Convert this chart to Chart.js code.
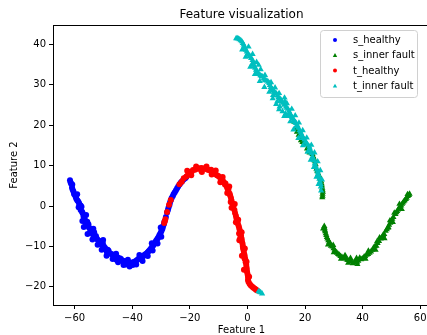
<!DOCTYPE html>
<html>
<head>
<meta charset="utf-8">
<script src="https://cdn.jsdelivr.net/npm/chart.js@4"></script>
<style>
    html, body { margin: 0; padding: 0; background: #fff; overflow: hidden; }
</style>
</head>
<body>
<canvas id="featureChart" width="434" height="335"></canvas>
<script>
// values, [feature 1, feature 2]
const sHealthy = [
    [-61.6, 6.4], [-61.4, 5.9], [-61.2, 5.5], [-60.9, 4.6], [-60.7, 4.1], [-60.4, 3.6], [-60.2, 3.0], [-59.9, 2.7],
    [-59.6, 2.2], [-59.4, 1.8], [-59.1, 1.4], [-58.8, 1.2], [-58.5, 0.8], [-58.3, 0.4], [-57.9, 0.1], [-57.6, -0.2],
    [-57.9, -1.0], [-57.4, -1.4], [-57.2, -1.8], [-56.9, -2.6], [-56.6, -3.0], [-56.4, -3.5], [-56.1, -4.2], [-55.6, -3.9],
    [-55.9, -4.8], [-55.2, -4.5], [-55.0, -5.3], [-54.7, -5.6], [-54.1, -5.9], [-54.0, -6.3], [-54.6, -6.6], [-53.2, -6.5],
    [-53.6, -7.1], [-53.1, -7.6], [-52.6, -7.4], [-52.4, -7.9], [-52.1, -8.3], [-51.6, -8.6], [-51.2, -8.8], [-50.9, -9.2],
    [-50.6, -9.6], [-50.2, -9.2], [-49.8, -10.0], [-49.4, -10.4], [-49.0, -10.8], [-48.8, -11.4], [-48.5, -10.8], [-48.2, -11.1],
    [-47.8, -11.7], [-47.3, -11.9], [-46.9, -12.0], [-46.4, -12.3], [-46.0, -12.6], [-45.5, -13.3], [-45.1, -12.7], [-44.7, -13.1],
    [-44.3, -12.9], [-43.9, -13.1], [-43.6, -13.5], [-43.1, -13.8], [-42.7, -13.6], [-42.4, -13.9], [-42.2, -14.5], [-41.8, -14.0],
    [-41.0, -14.2], [-40.6, -14.5], [-40.2, -14.0], [-39.8, -14.6], [-39.3, -13.8], [-38.8, -13.7], [-38.4, -13.4], [-37.9, -13.1],
    [-37.4, -12.9], [-37.0, -12.7], [-36.8, -13.1], [-36.5, -12.6], [-36.0, -12.3], [-35.6, -12.0], [-35.1, -11.8], [-34.7, -11.5],
    [-34.3, -11.2], [-33.9, -10.9], [-33.5, -10.5], [-33.1, -10.1], [-32.7, -9.8], [-32.4, -9.4], [-32.0, -9.0], [-31.7, -8.6],
    [-31.4, -8.3], [-31.1, -8.0], [-30.8, -7.6], [-30.5, -7.1], [-30.1, -6.6], [-29.8, -6.1], [-29.5, -5.6], [-29.3, -5.1],
    [-29.0, -4.5], [-28.8, -3.9], [-28.3, -2.7], [-27.9, -1.6], [-27.6, -1.0], [-27.4, -0.4], [-27.1, 0.2], [-26.9, 0.8],
    [-26.6, 1.4], [-26.3, 2.0], [-25.9, 2.5], [-25.6, 3.0], [-25.2, 3.4], [-24.8, 3.9], [-24.4, 4.4], [-24.0, 4.9],
    [-23.5, 5.4], [-23.1, 5.8], [-22.6, 6.2], [-22.1, 6.6], [-21.6, 6.9], [-21.2, 7.2],
    [-58.6, -0.3], [-57.3, -3.7], [-56.8, -5.2], [-55.5, -6.9], [-53.8, -8.3], [-52.0, -9.6], [-50.6, -10.8], [-48.9, -12.3],
    [-46.8, -13.1], [-44.9, -13.9], [-43.0, -14.6], [-40.9, -15.0], [-38.6, -14.5], [-36.4, -13.6], [-34.6, -12.4], [-32.9, -11.0],
    [-31.2, -9.3], [-29.9, -7.6], [-60.8, 5.3], [-59.1, 2.9], [-56.0, -2.2], [-53.5, -5.6], [-50.1, -8.4], [-45.6, -11.8],
    [-41.5, -13.3], [-37.5, -12.1], [-33.2, -9.2], [-30.1, -5.3]
];
const sInnerFault = [
    [16.3, 20.8], [16.6, 19.0], [17.2, 18.3], [17.8, 17.6], [18.6, 16.2], [19.1, 15.8], [19.6, 15.3], [20.7, 14.2],
    [21.1, 13.6], [21.6, 13.2], [22.6, 12.8], [22.9, 12.2], [23.2, 11.6], [23.5, 11.0], [23.7, 10.3], [24.0, 9.2],
    [24.3, 8.6], [24.6, 8.0], [24.9, 7.5], [25.2, 7.0], [25.4, 6.6], [25.6, 6.1], [25.8, 5.5], [25.9, 5.0],
    [26.0, 4.5], [26.1, 4.0], [26.2, 3.5], [26.1, 3.0], [26.1, 2.5], [26.0, 2.1],
    [26.7, -5.0], [26.8, -5.4], [26.9, -5.9], [27.0, -6.3], [27.2, -6.8], [27.4, -7.2], [27.6, -7.7], [27.8, -8.1],
    [28.1, -8.5], [28.4, -8.9], [28.8, -9.3], [29.0, -9.9], [29.5, -10.1], [29.9, -10.5], [30.3, -10.9], [30.7, -11.3],
    [31.1, -11.6], [31.5, -11.9], [31.9, -12.1], [32.3, -12.4], [32.8, -12.6], [33.2, -12.8], [33.6, -13.0], [34.0, -12.6],
    [34.5, -13.3], [34.9, -13.4], [35.3, -13.5], [35.7, -13.7], [35.8, -12.9], [36.2, -13.8], [36.6, -14.2], [37.1, -13.9],
    [37.6, -13.5], [38.0, -13.9], [38.5, -13.6], [39.0, -12.8], [39.5, -13.2], [39.9, -13.0], [40.5, -12.6], [40.9, -12.4],
    [41.4, -12.1], [41.9, -11.9], [42.4, -11.6], [42.9, -11.3], [43.4, -10.9], [43.8, -10.3], [44.0, -10.5], [44.3, -10.0],
    [44.8, -9.9], [45.0, -8.8], [45.2, -9.2], [45.7, -8.7], [46.3, -8.1], [46.7, -7.7], [47.1, -7.2], [47.5, -7.0],
    [48.0, -6.2], [48.4, -5.8], [48.7, -5.4], [49.0, -5.3], [49.2, -4.7], [49.6, -4.2], [50.0, -3.6], [50.3, -3.2],
    [50.7, -2.8], [51.0, -1.7], [51.4, -2.0], [51.7, -1.6], [52.0, -1.3], [52.3, -0.9], [52.7, -0.5], [53.0, -0.2],
    [53.4, 0.1], [53.7, 0.5], [54.0, 0.8], [54.3, 1.1], [54.6, 1.4], [55.0, 1.7], [55.3, 2.0], [55.7, 2.4],
    [56.1, 2.7], [56.3, 3.0],
    [28.0, -9.6], [30.0, -11.5], [32.5, -13.1], [35.0, -14.1], [38.2, -14.4], [41.0, -13.1], [44.5, -10.9], [47.6, -8.0],
    [50.5, -4.0], [53.6, -0.8], [26.3, -5.6], [29.8, -9.7], [33.9, -12.2], [37.9, -12.9], [42.0, -11.1], [45.9, -7.8],
    [49.5, -3.6], [52.8, 0.5], [55.6, 2.9]
];
const tHealthy = [
    [-28.9, -4.2], [-28.7, -3.8], [-28.5, -3.3], [-27.9, -1.5], [-27.2, 0.3], [-26.6, 1.5], [-23.6, 5.4], [-22.8, 6.0],
    [-22.1, 6.9], [-21.2, 7.3], [-20.6, 7.8], [-20.1, 8.1], [-19.6, 8.5], [-19.4, 8.4], [-18.9, 8.9], [-18.2, 9.0],
    [-17.6, 9.2], [-17.0, 9.3], [-16.5, 9.3], [-16.0, 9.4], [-16.0, 8.7], [-15.5, 9.3], [-14.9, 9.3], [-14.4, 9.2],
    [-13.8, 9.0], [-13.3, 8.9], [-12.8, 8.7], [-12.6, 9.0], [-12.2, 8.5], [-11.6, 8.2], [-11.1, 7.9], [-10.6, 7.6],
    [-10.1, 7.4], [-9.6, 7.1], [-9.1, 6.9], [-8.6, 6.4], [-8.2, 5.9], [-7.8, 5.3], [-7.6, 5.6], [-7.2, 4.8],
    [-6.9, 4.3], [-6.6, 4.0], [-6.2, 3.1], [-6.0, 2.6], [-5.8, 1.0], [-5.7, 2.0], [-5.5, 1.3], [-5.2, 0.6],
    [-4.9, -0.2], [-4.5, -1.0], [-4.3, -1.7], [-4.0, -2.4], [-3.8, -3.0], [-3.5, -3.7], [-3.3, -4.4], [-3.0, -5.0],
    [-2.9, -6.8], [-2.8, -5.6], [-2.6, -6.2], [-2.5, -7.9], [-2.4, -6.8], [-2.2, -7.4], [-2.0, -8.1], [-1.9, -8.7],
    [-1.7, -9.3], [-1.6, -9.9], [-1.5, -10.3], [-1.4, -10.6], [-1.3, -11.0], [-1.2, -11.6], [-1.0, -12.1], [-1.0, -13.0],
    [-0.9, -12.7], [-0.7, -13.3], [-0.6, -13.9], [-0.4, -14.6], [-0.3, -15.2], [-0.2, -15.8], [-0.1, -16.4], [0.1, -17.0],
    [0.2, -17.6], [0.2, -18.3], [0.4, -18.8], [0.8, -19.3], [1.2, -19.7], [1.7, -20.0], [2.1, -20.2], [2.6, -20.5],
    [3.0, -20.7], [3.4, -20.9],
    [-20.9, 8.7], [-17.8, 9.8], [-14.2, 9.8], [-11.0, 8.8], [-8.6, 7.2], [-6.3, 4.8], [-4.4, 0.5], [-3.2, -3.4],
    [-2.0, -6.5], [-0.9, -10.5], [-0.3, -13.8], [0.6, -17.5], [-19.5, 7.6], [-15.8, 8.4], [-12.4, 7.8], [-9.4, 5.9],
    [-7.0, 3.2], [-5.5, -0.4], [-4.0, -4.0], [-2.8, -8.5], [-1.9, -12.3], [-1.2, -15.8]
];
const tInnerFault = [
    [-3.9, 41.5], [-3.5, 41.5], [-3.1, 41.4], [-2.7, 41.2], [-2.3, 41.0], [-1.9, 40.7], [-1.6, 40.3], [-1.3, 39.9],
    [-1.1, 39.5], [-0.8, 39.1], [-0.5, 38.6], [-0.2, 38.2], [0.1, 37.7], [0.5, 37.4], [0.9, 37.1], [1.3, 36.6],
    [1.8, 36.1], [2.1, 35.5], [1.5, 35.0], [2.4, 34.6], [2.7, 34.2], [3.0, 33.7], [3.3, 33.3], [3.9, 34.9],
    [3.6, 32.8], [4.1, 32.6], [4.5, 32.3], [4.9, 32.1], [5.3, 32.0], [5.7, 31.6], [6.0, 31.2], [6.4, 31.1],
    [6.8, 31.0], [7.2, 30.7], [7.6, 30.4], [7.8, 29.9], [8.1, 29.4], [8.4, 29.1], [8.7, 28.9], [9.0, 28.6],
    [9.3, 28.3], [8.9, 27.4], [9.7, 27.9], [10.1, 27.8], [10.4, 27.3], [10.8, 26.9], [11.3, 26.6], [11.7, 26.2],
    [10.0, 25.2], [11.2, 24.6], [12.0, 25.8], [12.3, 25.5], [12.7, 25.0], [13.0, 25.9], [13.4, 24.6], [12.2, 23.4],
    [13.7, 24.3], [14.1, 24.0], [13.2, 22.8], [14.4, 23.5], [14.6, 23.1], [14.8, 22.8], [15.1, 22.5], [13.9, 22.2],
    [15.5, 22.0], [15.9, 21.6], [16.1, 21.2], [16.4, 20.9], [16.7, 20.7], [16.9, 20.5], [17.1, 19.9], [17.4, 19.9],
    [16.9, 19.6], [17.7, 19.3], [18.1, 18.7], [18.4, 18.3], [18.7, 17.9], [18.9, 17.5], [19.1, 17.2], [19.4, 16.8],
    [19.8, 16.4], [20.2, 16.0], [20.5, 15.6], [20.9, 15.2], [21.5, 14.7], [21.7, 14.2], [21.9, 13.7], [22.2, 13.0],
    [22.6, 12.2], [22.9, 11.7], [23.1, 11.3], [23.4, 10.5], [23.8, 9.7], [24.1, 9.0], [24.4, 8.4], [24.6, 7.9],
    [24.9, 7.3], [25.0, 6.7], [25.2, 6.0], [25.4, 5.4], [25.5, 4.8], [25.6, 3.8],
    [0.4, 39.4], [-1.8, 38.7], [1.8, 37.6], [-0.6, 36.9], [3.2, 35.6], [1.0, 34.4], [4.6, 33.8], [2.6, 32.6],
    [6.1, 32.4], [4.3, 30.9], [8.2, 30.6], [5.9, 29.4], [9.6, 29.3], [7.6, 28.2], [11.0, 27.9], [8.8, 26.6],
    [12.9, 26.8], [10.4, 25.9], [13.7, 25.4], [11.0, 23.9], [15.4, 24.0], [12.8, 22.2], [16.6, 22.4], [14.9, 20.9],
    [17.9, 20.6], [16.0, 18.9], [19.2, 18.7], [17.7, 16.8], [20.6, 16.9], [19.3, 15.0], [22.2, 15.1], [20.9, 13.4],
    [23.3, 13.2], [22.0, 11.4], [24.4, 11.0], [23.1, 9.6], [25.3, 8.8], [24.0, 7.2], [25.9, 6.5], [24.7, 5.4],
    [3.9, -21.1], [4.3, -21.3], [4.6, -21.4], [5.1, -21.7]
];

const seriesLabels = ['s_healthy', 's_inner fault', 't_healthy', 't_inner fault'];
const seriesColors = ['#0000ff', '#008000', '#ff0000', '#00bfbf'];
const seriesMarkers = ['circle', 'triangle', 'circle', 'triangle'];
const xTickValues = [-60, -40, -20, 0, 20, 40, 60];
const yTickValues = [-20, -10, 0, 10, 20, 30, 40];

const FONT = 'DejaVu Sans';

function toPoints(pairs) {
    return pairs.map(p => ({ x: p[0], y: p[1] }));
}

// matplotlib-like frame, title and legend
const mplDecor = {
    id: 'mplDecor',
    afterDatasetsDraw(chart) {
        const { ctx, chartArea } = chart;
        ctx.save();
        ctx.strokeStyle = '#000';
        ctx.lineWidth = 1;
        ctx.strokeRect(chartArea.left + 0.5, chartArea.top + 0.5,
            chartArea.right - chartArea.left - 1, chartArea.bottom - chartArea.top);
        ctx.restore();
    },
    afterDraw(chart) {
        const { ctx, chartArea } = chart;
        ctx.save();
        ctx.fillStyle = '#000';
        ctx.font = '12px "' + FONT + '"';
        ctx.textAlign = 'center';
        ctx.textBaseline = 'middle';
        ctx.fillText('Feature visualization', (chartArea.left + chartArea.right) / 2, 15);

        // legend box
        const bx = 320, by = 30, bw = 97, bh = 67;
        ctx.beginPath();
        ctx.roundRect(bx + 0.5, by + 0.5, bw, bh, 3);
        ctx.fillStyle = 'rgba(255,255,255,0.8)';
        ctx.fill();
        ctx.strokeStyle = '#d0d0d0';
        ctx.lineWidth = 1;
        ctx.stroke();

        ctx.font = '10px "' + FONT + '"';
        ctx.textAlign = 'left';
        chart.data.datasets.forEach((ds, i) => {
            const rowY = by + 10 + i * 15.3;
            ctx.fillStyle = ds.backgroundColor;
            if (ds.pointStyle === 'triangle') {
                ctx.beginPath();
                ctx.moveTo(335, rowY - 2.2);
                ctx.lineTo(337.2, rowY + 1.6);
                ctx.lineTo(332.8, rowY + 1.6);
                ctx.closePath();
                ctx.fill();
            } else {
                ctx.beginPath();
                ctx.arc(335, rowY, 2, 0, Math.PI * 2);
                ctx.fill();
            }
            ctx.fillStyle = '#000';
            ctx.fillText(ds.label, 353, rowY + 0.5);
        });
        ctx.restore();
    }
};

const datasets = [sHealthy, sInnerFault, tHealthy, tInnerFault].map((pairs, i) => ({
    label: seriesLabels[i],
    data: toPoints(pairs),
    backgroundColor: seriesColors[i],
    borderColor: seriesColors[i],
    borderWidth: 0,
    pointStyle: seriesMarkers[i],
    pointRadius: seriesMarkers[i] === 'triangle' ? 3.6 : 3,
    order: 4 - i
}));

const ctx = document.getElementById('featureChart').getContext('2d');
new Chart(ctx, {
    type: 'scatter',
    data: { datasets },
    options: {
        responsive: false,
        animation: false,
        layout: { padding: { top: 25, right: 3, left: 0, bottom: 0 } },
        plugins: {
            legend: { display: false },
            tooltip: { enabled: false },
            title: { display: false }
        },
        scales: {
            x: {
                type: 'linear',
                min: -67.5,
                max: 63.4,
                afterFit: scale => { scale.height = 30; },
                afterBuildTicks: scale => { scale.ticks = xTickValues.map(v => ({ value: v })); },
                grid: { drawOnChartArea: false, drawTicks: true, tickLength: 4, color: '#000' },
                border: { display: true, color: '#000', width: 1 },
                ticks: {
                    padding: 3,
                    color: '#000',
                    font: { family: FONT, size: 10 },
                    callback: v => String(v).replace('-', '\u2212')
                },
                title: {
                    display: true,
                    text: 'Feature 1',
                    color: '#000',
                    font: { family: FONT, size: 10, lineHeight: 1 },
                    padding: { top: 0, bottom: 0 }
                }
            },
            y: {
                type: 'linear',
                min: -24.5,
                max: 44.8,
                afterFit: scale => { scale.width = 53; },
                afterBuildTicks: scale => { scale.ticks = yTickValues.map(v => ({ value: v })); },
                grid: { drawOnChartArea: false, drawTicks: true, tickLength: 4, color: '#000' },
                border: { display: true, color: '#000', width: 1 },
                ticks: {
                    padding: 3,
                    color: '#000',
                    font: { family: FONT, size: 10 },
                    callback: v => String(v).replace('-', '\u2212')
                },
                title: {
                    display: true,
                    text: 'Feature 2',
                    color: '#000',
                    font: { family: FONT, size: 10, lineHeight: 1.2 },
                    padding: { top: 8, bottom: 0 }
                }
            }
        }
    },
    plugins: [mplDecor]
});
</script>
</body>
</html>
